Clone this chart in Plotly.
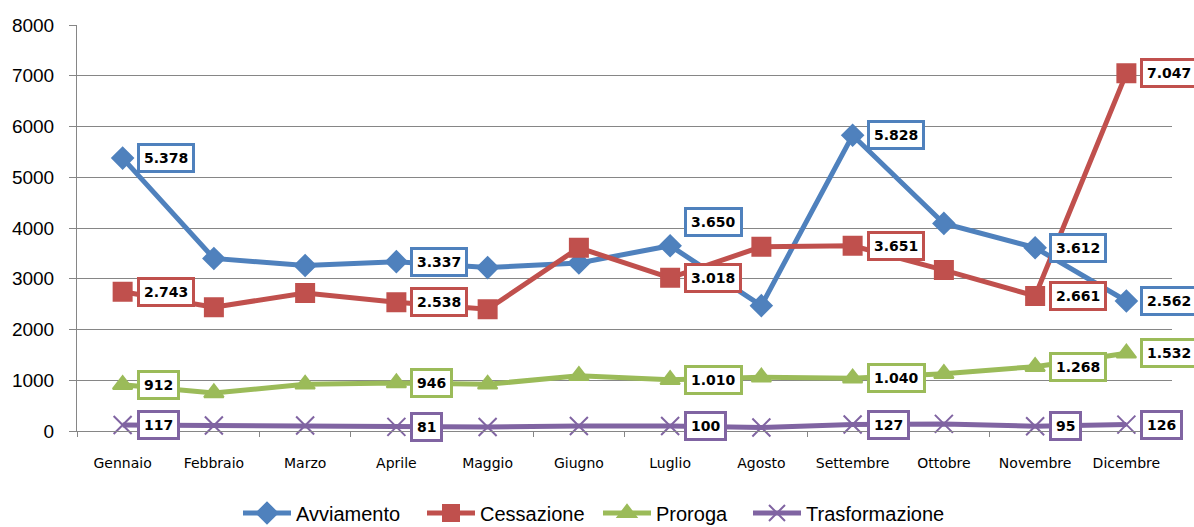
import plotly.graph_objects as go

# ── data ──
MONTHS = ["Gennaio", "Febbraio", "Marzo", "Aprile", "Maggio", "Giugno",
          "Luglio", "Agosto", "Settembre", "Ottobre", "Novembre", "Dicembre"]

AVVIAMENTO = [5378, 3400, 3260, 3337, 3220, 3310, 3650, 2470, 5828, 4090, 3612, 2562]
CESSAZIONE = [2743, 2440, 2720, 2538, 2400, 3610, 3018, 3630, 3651, 3170, 2661, 7047]
PROROGA = [912, 750, 920, 946, 920, 1090, 1010, 1060, 1040, 1130, 1268, 1532]
TRASFORMAZIONE = [117, 110, 110, 81, 80, 100, 100, 70, 127, 140, 95, 126]

# months that carry a value box
LABELLED = [0, 3, 6, 8, 10, 11]

# name, values, colour, marker, marker size, legend entry width
SERIES = [
    ("Avviamento", AVVIAMENTO, "#4F81BD", "diamond", 16, 121),
    ("Cessazione", CESSAZIONE, "#C0504D", "square", 18, 113),
    ("Proroga", PROROGA, "#9BBB59", "triangle-up", 17, 87),
    ("Trasformazione", TRASFORMAZIONE, "#8064A2", "x-thin", 18, 140),
]

GRID = "#868686"


def it_fmt(v):
    return f"{v:,}".replace(",", ".")


fig = go.Figure()

for name, vals, colour, symbol, size, lw in SERIES:
    fig.add_trace(go.Scatter(
        x=MONTHS, y=vals, name=name, mode="lines+markers",
        line=dict(color=colour, width=5),
        marker=dict(symbol=symbol, size=size, color=colour,
                    line=dict(color=colour, width=2)),
        cliponaxis=False, legendwidth=lw,
    ))
    for i in LABELLED:
        # the July Avviamento box sits above its point
        yshift = 24 if (name == "Avviamento" and i == 6) else 0
        fig.add_annotation(
            x=MONTHS[i], y=vals[i], text=f"<b>{it_fmt(vals[i])}</b>",
            showarrow=False, xanchor="left", xshift=14, yshift=yshift,
            font=dict(family="DejaVu Sans", size=14, color="#000000"),
            bgcolor="#ffffff", bordercolor=colour, borderwidth=3, borderpad=4,
        )

fig.update_layout(
    width=1194, height=527,
    margin=dict(l=77, r=22, t=25, b=96, autoexpand=False),
    plot_bgcolor="#ffffff", paper_bgcolor="#ffffff",
    font=dict(family="Liberation Sans", color="#000000"),
    legend=dict(
        orientation="h", xref="container", yref="container",
        x=238 / 1194, xanchor="left", y=14 / 527, yanchor="middle",
        font=dict(family="Liberation Sans", size=20, color="#000000"),
        itemwidth=48,
    ),
    xaxis=dict(
        range=[-0.5, len(MONTHS) - 0.5],
        showline=True, linecolor=GRID, linewidth=1,
        ticks="outside", tickson="boundaries", ticklen=5, tickcolor=GRID,
        showgrid=False, ticklabelstandoff=19,
        tickfont=dict(family="DejaVu Sans", size=14, color="#000000"),
        fixedrange=True,
    ),
    yaxis=dict(
        range=[0, 8000], dtick=1000, showgrid=True, gridcolor=GRID, gridwidth=1,
        showline=True, linecolor=GRID, linewidth=1, zeroline=False,
        ticks="outside", ticklen=7, tickcolor=GRID, ticklabelstandoff=11,
        tickfont=dict(family="Liberation Sans", size=19, color="#000000"),
        fixedrange=True,
    ),
)

# drop the default page margin so the figure sits at the window's top-left
fig.write_html("out.html", config={"displayModeBar": False},
               post_script="document.body.style.margin = '0';")
